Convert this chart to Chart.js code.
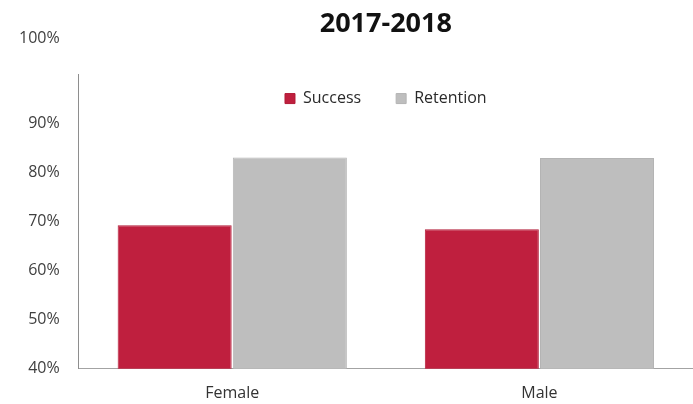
<!DOCTYPE html>
<html>
<head>
<meta charset="utf-8">
<title>2017-2018</title>
<script src="https://cdn.jsdelivr.net/npm/chart.js@4/dist/chart.umd.min.js"></script>
<style>
    html, body { margin: 0; padding: 0; background: #ffffff; }
    #wrap { position: relative; width: 693px; height: 404px; }
</style>
</head>
<body>
<div id="wrap"><canvas id="rateChart"></canvas></div>
<script>
// Success / retention rates by gender, 2017-2018
const chartTitle = '2017-2018';
const groups = ['Female', 'Male'];
const successRates = [69.2, 68.4];
const retentionRates = [83.0, 82.9];
const yTicks = [40, 50, 60, 70, 80, 90, 100];
const legendLevel = 95; // legend row sits at this value inside the plot

Chart.defaults.font.family = "'Open Sans', sans-serif";
Chart.defaults.color = '#404040';

// keep the legend inside the plot area instead of above it
const floatLegend = {
    id: 'floatLegend',
    afterLayout(chart) {
        const lg = chart.legend;
        if (!lg) return;
        const pad = lg.options.labels.padding;
        const mid = chart.scales.y.getPixelForValue(legendLevel);
        lg.top = mid - pad - 8;
        lg.height = 2 * pad + 16;
        lg.bottom = lg.top + lg.height;
    }
};

document.addEventListener('DOMContentLoaded', () => {
    const ctx = document.getElementById('rateChart');

    new Chart(ctx, {
        type: 'bar',
        data: {
            labels: groups,
            datasets: [{
                label: 'Success',
                data: successRates,
                backgroundColor: '#BF1F3E',
                borderColor: '#B21B37',
                borderWidth: 1
            }, {
                label: 'Retention',
                data: retentionRates,
                backgroundColor: '#BEBEBE',
                borderColor: '#B4B4B4',
                borderWidth: 1
            }]
        },
        options: {
            responsive: true,
            maintainAspectRatio: false,
            animation: false,
            categoryPercentage: 0.75,
            barPercentage: 0.99,
            // x labels hang below the canvas box a little so the axis sits low
            layout: { padding: { left: 0, right: 0, top: 0, bottom: -14 } },
            plugins: {
                title: {
                    display: true,
                    text: chartTitle,
                    fullSize: false,
                    color: '#111111',
                    font: { size: 27, weight: 'bold' },
                    padding: { top: 8, bottom: 32.6 }
                },
                legend: {
                    position: 'top',
                    fullSize: false,
                    maxHeight: 1,
                    labels: {
                        boxWidth: 10,
                        boxHeight: 10,
                        padding: 35,
                        color: '#2a2a2a',
                        font: { size: 16 }
                    }
                },
                tooltip: { enabled: false }
            },
            scales: {
                x: {
                    grid: { display: false, drawTicks: false },
                    border: { display: true, color: '#a3a3a3', width: 1 },
                    ticks: { padding: 15, color: '#333333', font: { size: 16 } }
                },
                y: {
                    min: yTicks[0],
                    max: yTicks[yTicks.length - 1],
                    afterBuildTicks: (scale) => {
                        scale.ticks = yTicks.map(v => ({ value: v }));
                    },
                    grid: { display: false, drawTicks: false },
                    border: { display: true, color: '#8e8e8e', width: 1 },
                    ticks: {
                        autoSkip: false,
                        padding: 19,
                        color: '#404040',
                        font: { size: 16, lineHeight: 1.1 },
                        // the top label is lifted above the end of the axis
                        callback: (v) => v === 100 ? ['100%', '', '', '', ''] : v + '%'
                    }
                }
            }
        },
        plugins: [floatLegend]
    });
});
</script>
</body>
</html>
